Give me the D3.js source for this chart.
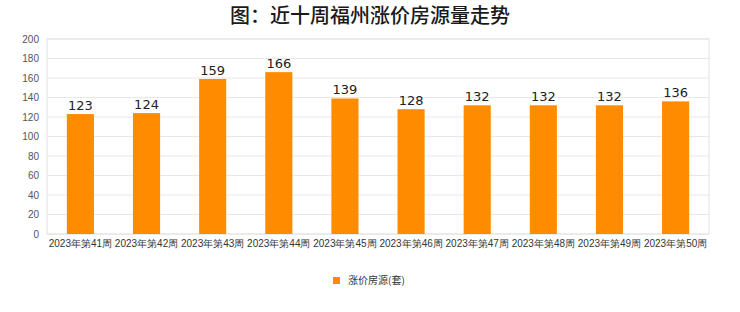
<!DOCTYPE html>
<html>
<head>
<meta charset="utf-8">
<script src="https://cdn.jsdelivr.net/npm/d3@7"></script>
<style>
  body { margin: 0; background: #fff; }
  svg { display: block; font-family: "Noto Sans CJK SC", "Noto Sans", sans-serif; }
</style>
</head>
<body>
<div id="chart"></div>
<script>
// week categories and values
const weeks = ['2023年第41周', '2023年第42周', '2023年第43周', '2023年第44周', '2023年第45周',
    '2023年第46周', '2023年第47周', '2023年第48周', '2023年第49周', '2023年第50周'];
const values = [123, 124, 159, 166, 139, 128, 132, 132, 132, 136];
const yTicks = [0, 20, 40, 60, 80, 100, 120, 140, 160, 180, 200];
const seriesName = '涨价房源(套)';

var svgWidth = 740, svgHeight = 312;
var margin = { top: 39, right: 31, bottom: 78, left: 47 };
var width = svgWidth - margin.left - margin.right;
var height = svgHeight - margin.top - margin.bottom;

var svg = d3.select('#chart').append('svg')
    .attr('width', svgWidth)
    .attr('height', svgHeight);

svg.append('text')
    .attr('x', svgWidth / 2)
    .attr('y', 23)
    .attr('text-anchor', 'middle')
    .attr('font-size', 20)
    .attr('font-weight', 500)
    .attr('fill', '#1a1a1a')
    .text('图：近十周福州涨价房源量走势');

var g = svg.append('g').attr('transform', `translate(${margin.left},${margin.top})`);

var x = d3.scaleBand().domain(weeks).range([0, width]).paddingInner(0.59).paddingOuter(0.3);
var y = d3.scaleLinear().domain([0, 200]).range([height, 0]);

// grid lines
g.selectAll('.grid').data(yTicks).enter().append('line')
    .attr('x1', 0).attr('x2', width)
    .attr('y1', d => y(d)).attr('y2', d => y(d))
    .attr('stroke', '#e8e8e8');

// frame
g.append('rect')
    .attr('width', width).attr('height', height)
    .attr('fill', 'none').attr('stroke', '#e2e2e2');

// y axis
var yAxis = g.append('g').call(d3.axisLeft(y).tickValues(yTicks).tickSize(0).tickPadding(8));
yAxis.select('.domain').remove();
yAxis.selectAll('text').attr('font-size', 10).attr('fill', '#555');

// x axis
var xAxis = g.append('g').attr('transform', `translate(0,${height})`)
    .call(d3.axisBottom(x).tickSize(0).tickPadding(6));
xAxis.select('.domain').remove();
xAxis.selectAll('text').attr('font-size', 10).attr('fill', '#333');

// bars
g.selectAll('.bar').data(values).enter().append('rect')
    .attr('x', (d, i) => x(weeks[i]))
    .attr('y', d => y(d))
    .attr('width', x.bandwidth())
    .attr('height', d => height - y(d))
    .attr('fill', '#ff8c00');

g.selectAll('.label').data(values).enter().append('text')
    .attr('x', (d, i) => x(weeks[i]) + x.bandwidth() / 2)
    .attr('y', d => y(d) - 4)
    .attr('text-anchor', 'middle')
    .attr('font-family', 'DejaVu Sans, sans-serif')
    .attr('font-size', 13)
    .attr('fill', '#222')
    .text(d => d);

// legend
var legend = svg.append('g').attr('transform', 'translate(333,276)');
legend.append('rect').attr('width', 7).attr('height', 7).attr('y', 1).attr('fill', '#ff8c00');
legend.append('text').attr('x', 15).attr('y', 8).attr('font-size', 10).attr('fill', '#333').text(seriesName);
</script>
</body>
</html>
